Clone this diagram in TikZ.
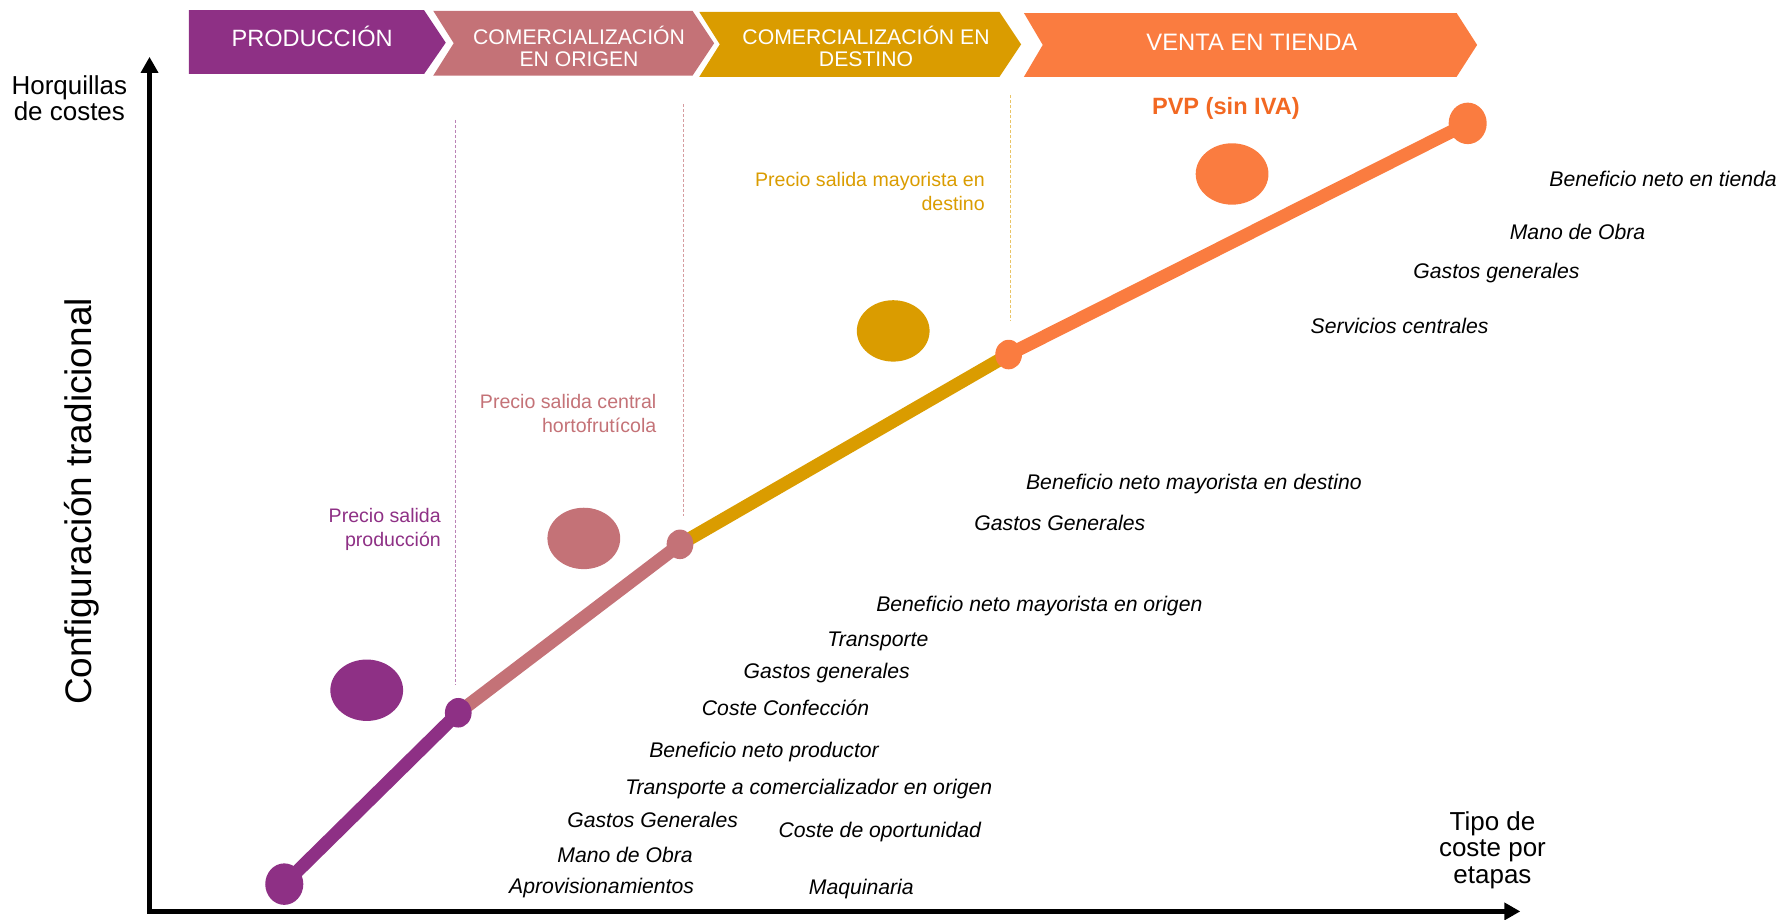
\documentclass[tikz,border=0pt]{standalone}
\usepackage{fontspec}
\setmainfont{Liberation Sans}
\usetikzlibrary{shapes.geometric, arrows.meta, backgrounds}
\definecolor{prodpurple}{RGB}{142,48,133}
\definecolor{origpink}{RGB}{196,114,119}
\definecolor{destgold}{RGB}{218,156,0}
\definecolor{tiendaorange}{RGB}{250,124,64}
\definecolor{pvporange}{RGB}{242,104,34}
\newcommand{\fsz}[2]{\fontsize{#1}{#2}\selectfont}
\tikzset{
    stagetext/.style={text=white, inner sep=0pt, align=center},
    axislabel/.style={inner sep=0pt, align=center, font=\fsz{13}{13.1}},
    price/.style={inner sep=0pt, align=right, anchor=north east, font=\fsz{9.8}{11.9}},
    cost/.style={inner sep=0pt, font=\fsz{10.6}{12}\itshape},
    dot/.style={ellipse, inner sep=0pt, minimum width=0.47cm, minimum height=0.52cm},
    bigdot/.style={dot, minimum width=0.67cm, minimum height=0.73cm},
    blob/.style={ellipse, inner sep=0pt, minimum width=1.28cm, minimum height=1.08cm},
    segment/.style={line width=6.6pt},
    guide/.style={line width=0.5pt, dash pattern=on 1.5pt off 1pt},
    axis/.style={line width=2.5pt, {Triangle[length=8pt,width=8.4pt]}-{Triangle[length=8pt,width=8.4pt]}}
}

\begin{document}
\begin{tikzpicture}[x=0.02cm, y=-0.02cm]
    \useasboundingbox (0,0) rectangle (1568,808.3);

    % stages
    \fill[prodpurple] (166,9) -- (373,9) -- (392,37.5) -- (373,65) -- (166,65) -- cycle;
    \fill[origpink] (381,9.5) -- (609,9.5) -- (628,38) -- (609,66.5) -- (381,66.5) -- (399,38) -- cycle;
    \fill[destgold] (615,10.5) -- (879,10.5) -- (898,39) -- (879,67.5) -- (615,67.5) -- (633,39) -- cycle;
    \fill[tiendaorange] (900.5,11.5) -- (1281,11.5) -- (1299,39.5) -- (1281,67.5) -- (900.5,67.5) -- (917,39.5) -- cycle;
    \node[stagetext, anchor=base, font=\fsz{11.8}{13}] (prod-stage) at (274.5,41.2) {PRODUCCIÓN};
    \node[stagetext, font=\fsz{10.6}{11}] (orig-stage) at (509.2,41) {COMERCIALIZACIÓN\\EN ORIGEN};
    \node[stagetext, font=\fsz{10.6}{11}] (dest-stage) at (761.6,41) {COMERCIALIZACIÓN EN\\DESTINO};
    \node[stagetext, anchor=base, font=\fsz{11.9}{13}] (tienda-stage) at (1100.9,44.2) {VENTA EN TIENDA};

    % axes
    \coordinate (origin) at (131.5,801.5);
    \coordinate (y-end) at (131.5,50);
    \coordinate (x-end) at (1337,801.5);
    \draw[axis] (y-end) -- (origin) -- (x-end);
    \node[axislabel] (y-label) at (61,86.2) {Horquillas\\de costes};
    \node[axislabel] (x-label) at (1312.5,747.6) {Tipo de\\coste por\\etapas};
    \node[rotate=90, inner sep=0pt, font=\fsz{18.5}{20}] (config-label) at (72,441) {Configuración tradicional};

    % guides
    \draw[guide, prodpurple!60] (400.5,105.5) -- (400.5,602.5);
    \draw[guide, origpink!70] (601,91.5) -- (601,454);
    \draw[guide, destgold!60] (888.7,83.6) -- (888.7,281.4);

    % price line
    \node[bigdot, fill=prodpurple] (prod-start) at (250,777.5) {};
    \node[dot, fill=prodpurple] (prod-end) at (403,626.8) {};
    \node[dot, fill=origpink] (orig-end) at (598,478.7) {};
    \node[dot, fill=tiendaorange] (dest-end) at (887,311.8) {};
    \node[bigdot, fill=tiendaorange] (tienda-end) at (1290.7,108.5) {};
    \begin{scope}[on background layer]
        \draw[segment, prodpurple] (prod-start.center) -- (prod-end.center);
        \draw[segment, origpink] (prod-end.center) -- (orig-end.center);
        \draw[segment, destgold] (orig-end.center) -- (dest-end.center);
        \draw[segment, tiendaorange] (dest-end.center) -- (tienda-end.center);
    \end{scope}

    \node[blob, fill=prodpurple] (prod-blob) at (322.5,607) {};
    \node[blob, fill=origpink] (orig-blob) at (513.4,473.5) {};
    \node[blob, fill=destgold] (dest-blob) at (785.5,291) {};
    \node[blob, fill=tiendaorange] (tienda-blob) at (1083.5,153) {};

    \node[price, text=prodpurple] (prod-price) at (388,447) {Precio salida\\producción};
    \node[price, text=origpink] (orig-price) at (577.5,346.5) {Precio salida central\\hortofrutícola};
    \node[price, text=destgold] (dest-price) at (866.3,151.5) {Precio salida mayorista en\\destino};
    \node[inner sep=0pt, text=pvporange, font=\fsz{11.8}{13}\bfseries] (pvp) at (1078,95) {PVP (sin IVA)};

    % cost items
    \node[cost] (t-beneficio) at (1462.5,157.5) {Beneficio neto en tienda};
    \node[cost] (t-mano) at (1387.3,204) {Mano de Obra};
    \node[cost] (t-gastos) at (1316,240.5) {Gastos generales};
    \node[cost] (t-servicios) at (1230.8,287) {Servicios centrales};
    \node[cost] (d-beneficio) at (1049.9,426) {Beneficio neto mayorista en destino};
    \node[cost] (d-gastos) at (932,459.5) {Gastos Generales};
    \node[cost] (o-beneficio) at (914,533) {Beneficio neto mayorista en origen};
    \node[cost] (o-transporte) at (772,564) {Transporte};
    \node[cost] (o-gastos) at (727,592) {Gastos generales};
    \node[cost] (o-confeccion) at (690.8,622.5) {Coste Confección};
    \node[cost] (p-beneficio) at (671.9,661.5) {Beneficio neto productor};
    \node[cost] (p-transporte) at (711.2,694) {Transporte a comercializador en origen};
    \node[cost] (p-gastos) at (574,721) {Gastos Generales};
    \node[cost] (p-oportunidad) at (773.7,732) {Coste de oportunidad};
    \node[cost] (p-mano) at (549.7,752) {Mano de Obra};
    \node[cost] (p-aprov) at (529,781) {Aprovisionamientos};
    \node[cost] (p-maquinaria) at (757.4,782) {Maquinaria};
\end{tikzpicture}
\end{document}
